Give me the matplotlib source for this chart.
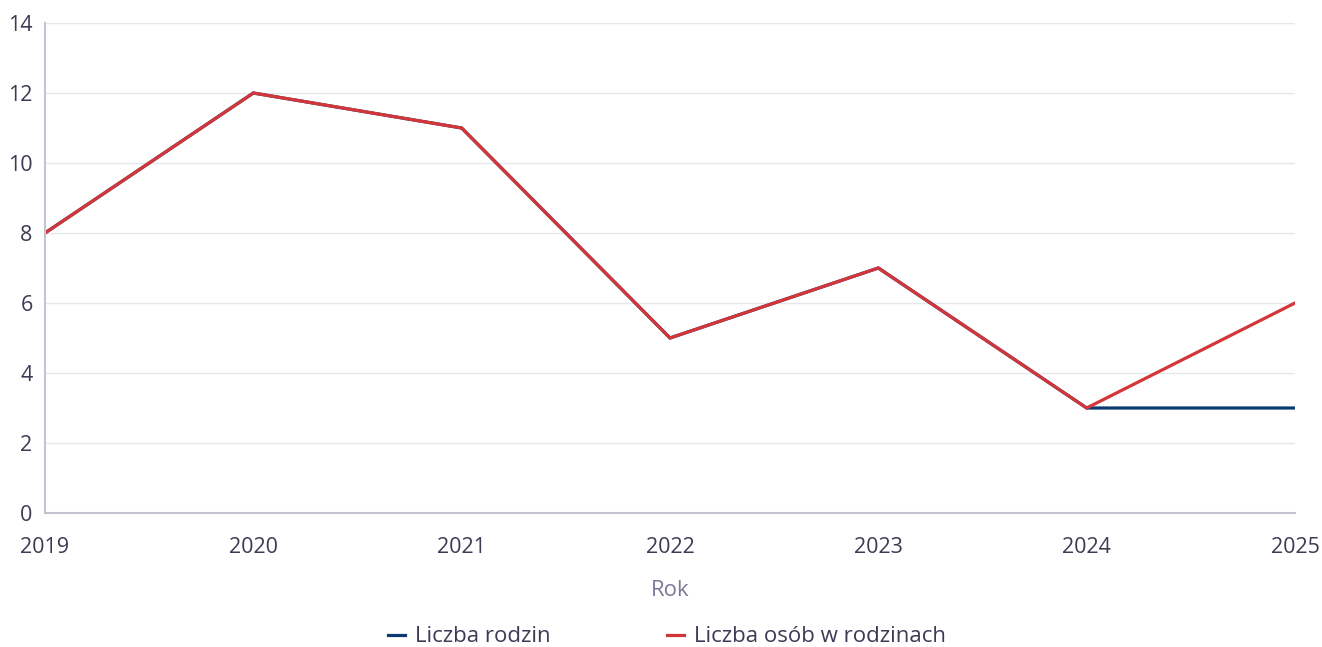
import matplotlib.pyplot as plt

plt.rcParams['font.family'] = ['Open Sans', 'DejaVu Sans']

years = [2019, 2020, 2021, 2022, 2023, 2024, 2025]
rodziny = [8, 12, 11, 5, 7, 3, 3]
osoby = [8, 12, 11, 5, 7, 3, 6]
y_ticks = [0, 2, 4, 6, 8, 10, 12, 14]

tick_color = '#3b3b55'
blue = '#0b3a70'
red = '#d2363a'

fig = plt.figure(figsize=(13.22, 6.47), dpi=100)
ax = fig.add_axes([45 / 1322, 1 - 513 / 647, 1250 / 1322, 490 / 647])

ax.plot(years, rodziny, color=blue, lw=2.3, label='Liczba rodzin', solid_joinstyle='miter')
ax.plot(years, osoby, color=red, lw=2.3, label='Liczba osób w rodzinach', solid_joinstyle='miter')

ax.set_xlim(2019, 2025)
ax.set_ylim(0, 14)
ax.set_xticks(years)
ax.set_yticks(y_ticks)
ax.grid(axis='y', color='#e6e6ee', lw=1)
ax.set_axisbelow(True)
ax.tick_params(length=0, labelsize=15.5, colors=tick_color)
ax.tick_params(axis='y', pad=9)
ax.tick_params(axis='x', pad=17)

for s in ['top', 'right']:
    ax.spines[s].set_visible(False)
for s in ['left', 'bottom']:
    ax.spines[s].set_color('#c3c3d2')
    ax.spines[s].set_linewidth(1.5)

ax.set_xlabel('Rok', fontsize=16, color='#7b7b98', labelpad=16)

fig.legend(loc='center', bbox_to_anchor=(667 / 1322, 1 - 637 / 647), ncol=2,
           frameon=False, fontsize=16, handlelength=0.8, handletextpad=0.45,
           columnspacing=5.2, labelcolor=tick_color)

fig.savefig('out.png', dpi=100)
